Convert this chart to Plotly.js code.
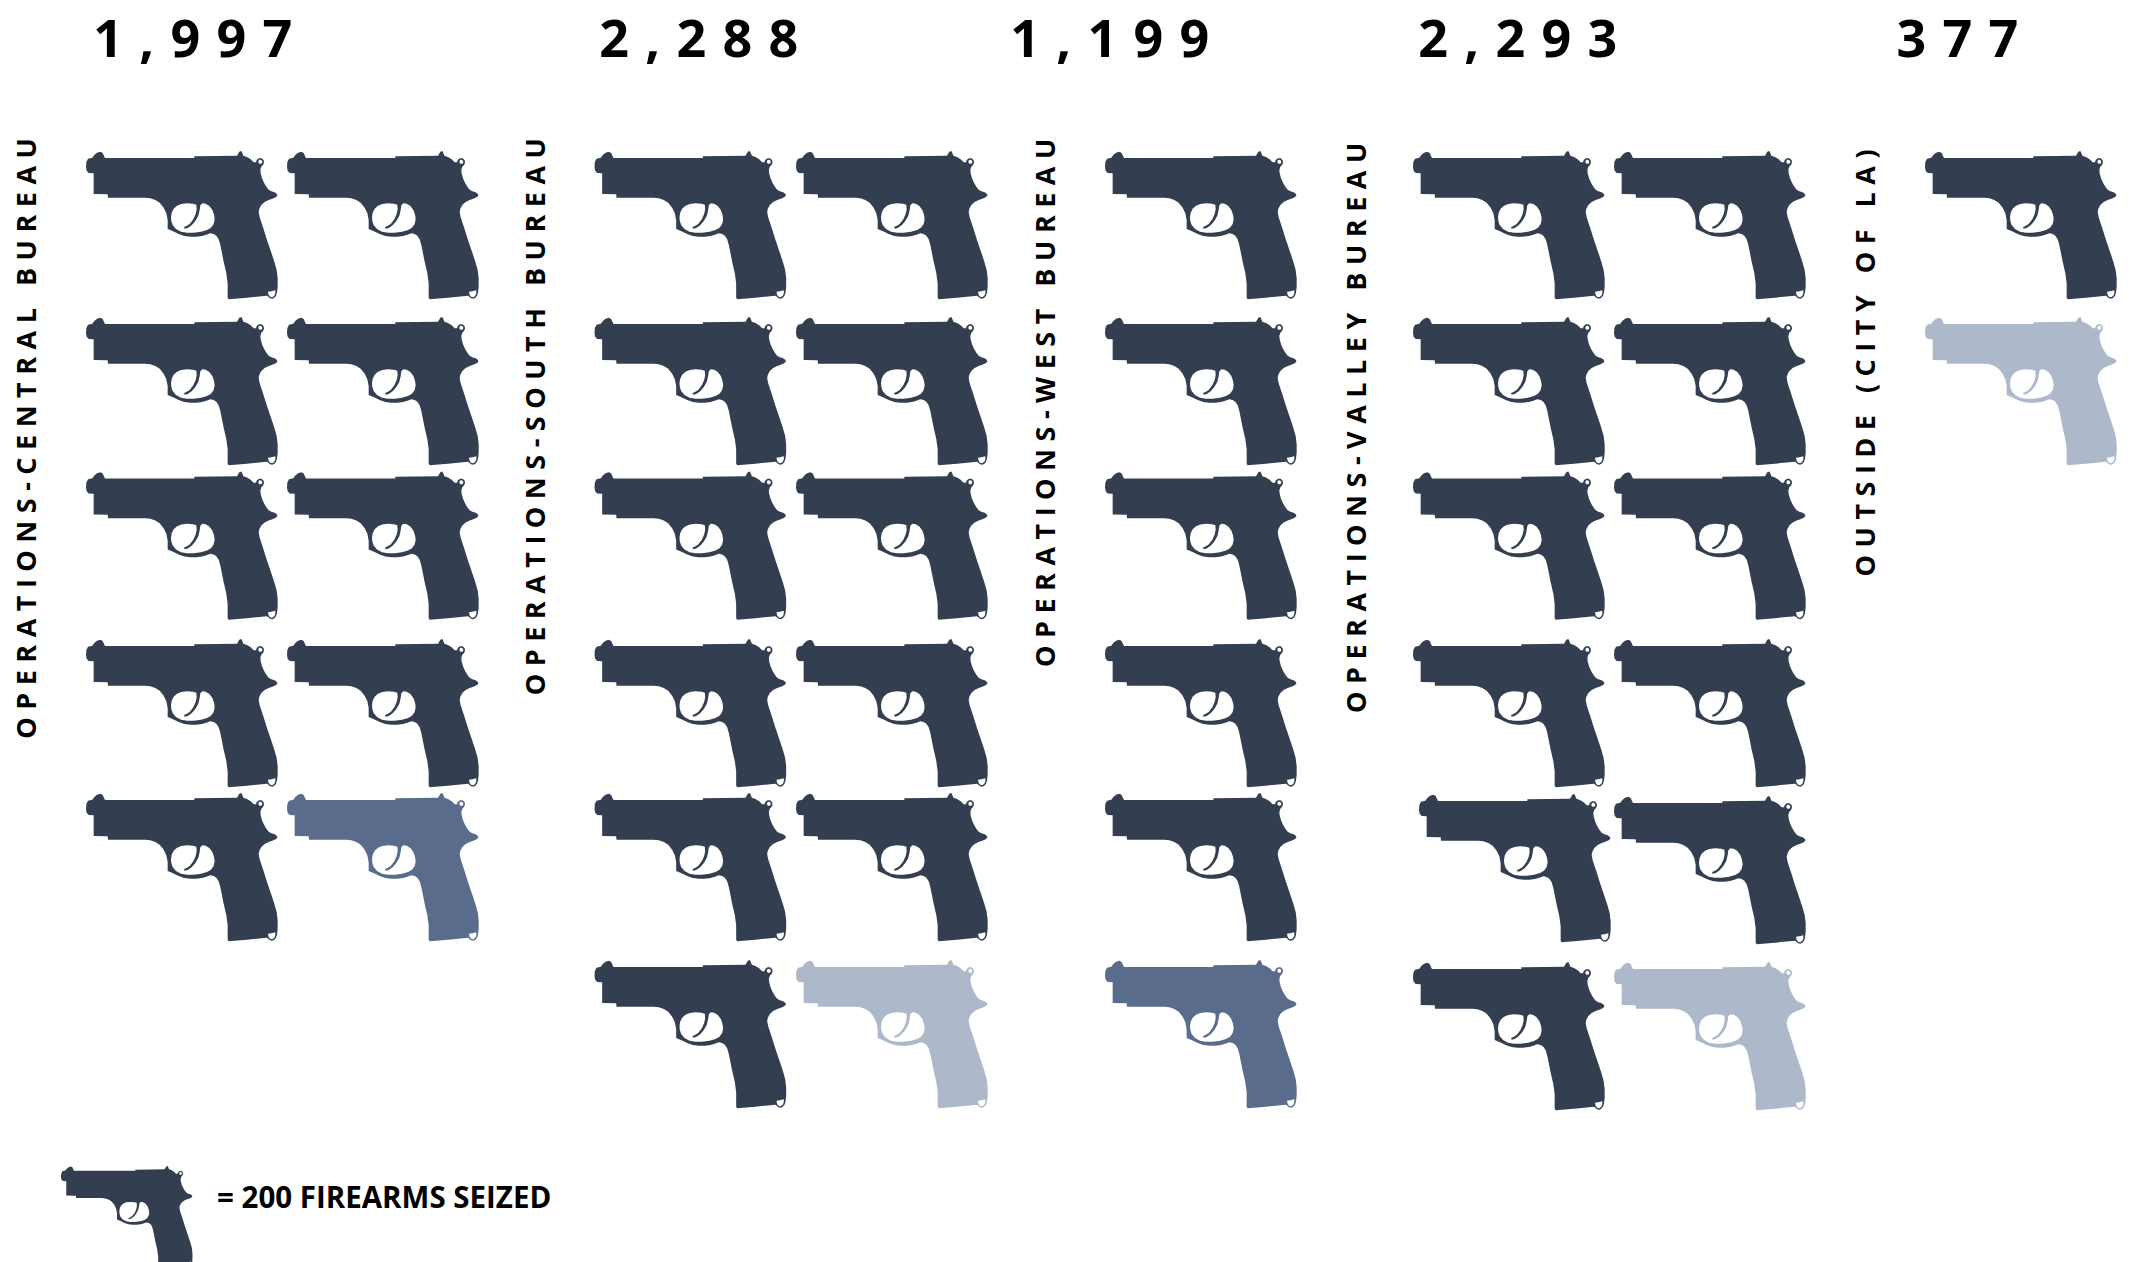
<!DOCTYPE html>
<html>
<head>
<meta charset="utf-8">
<script src="https://cdn.plot.ly/plotly-3.0.1.min.js"></script>
<style>
html,body{margin:0;padding:0;background:#fff;overflow:hidden}
#chart{width:2131px;height:1262px}
g.annotation[data-index="0"] text,g.annotation[data-index="1"] text,g.annotation[data-index="2"] text,g.annotation[data-index="3"] text,g.annotation[data-index="4"] text{letter-spacing:16.3px}
g.annotation[data-index="5"] text,g.annotation[data-index="6"] text,g.annotation[data-index="7"] text,g.annotation[data-index="8"] text,g.annotation[data-index="9"] text{letter-spacing:7.5px}
</style>
</head>
<body>
<div id="chart"></div>
<script>
// ---------- data ----------
const categories = ['OPERATIONS-CENTRAL BUREAU','OPERATIONS-SOUTH BUREAU','OPERATIONS-WEST BUREAU','OPERATIONS-VALLEY BUREAU','OUTSIDE (CITY OF LA)'];
const seized = [1997, 2288, 1199, 2293, 377];
const lastIconTone = ['mid', 'light', 'mid', 'light', 'light'];
const firearmsPerIcon = 200;
const legendText = '= 200 FIREARMS SEIZED';

// ---------- layout constants (pixels of the page) ----------
const W = 2131, H = 1262;
const COL_X = [[86, 287], [594.5, 796], [1105], [1413, 1614], [1925]];
const ROW_Y = [151, 317, 471.5, 639, 793, 960];
const NUDGE = {'3:4:0': [6, 1], '3:4:1': [0, 3], '3:5:0': [0, 2], '3:5:1': [0, 2]};
const COUNT_X = [131.5, 637.5, 1049, 1457, 1918.5];
const LABEL_X = [25, 534, 1043.5, 1355, 1863.5];
const LABEL_Y = [435, 413, 399, 424, 359];
const TONES = {dark: '#333f50', mid: '#596c8b', light: '#adb9ca'};

// Silhouette of the pistol icon, in 1/3 px units relative to its top-left corner
const ORIGIN = [47, 63];
const OUTLINE = [[70,192],[70,130],[55,129],[49,122],[47,112],[48,96],[53,86],[66,83],[72,75],[80,68],[90,65],[97,69],[100,76],[104,84],
[372,84],[372,79],[500,77],[503,72],[507,65],[513,63],[516,69],[519,77],[530,81],[541,88],[550,97],[557,97],[559,90],[566,85],[574,85],[580,91],[581,98],[578,105],[573,110],[570,120],[571,130],[575,145],[581,158],[588,170],[595,179],[603,184],[613,187],[620,192],[621,197],[616,202],[606,206],[595,210],[583,216],[573,225],[567,236],[565,246],[568,262],
[578,292],[590,330],[603,368],[612,395],[619,420],[622,445],[622,470],[620,488],[617,497],[612,503],[606,506],[599,505],[594,500],[590,497],[530,503],[475,508],[472,503],[472,460],[468,430],[460,395],[450,345],[445,328],[438,317],[430,312],[420,310],[408,314],[395,318],[378,320],[360,320],[342,318],[325,312],[308,304],[292,297],[292,270],[288,250],[280,233],[268,218],[255,210],[240,205],[225,203],[113,203],[112,193]];
const HOLES = [
 [[302,262],[304,248],[310,236],[320,227],[333,222],[350,220],[368,221],[378,224],[379,238],[376,252],[369,268],[358,282],[347,289],[341,291],[343,296],[352,294],[364,286],[375,273],[384,257],[388,240],[390,226],[396,220],[406,221],[417,228],[426,240],[431,254],[433,268],[430,282],[422,293],[410,300],[392,305],[370,308],[350,308],[332,305],[317,297],[307,285],[303,273]],
 [[564,95],[566,90],[571,89],[575,92],[576,97],[573,101],[568,101],[565,99]],
 [[593,485],[603,484],[615,481],[615,490],[612,497],[606,502],[600,501],[595,495]]
];

// ---------- build ----------
function addIcon(bucket, left, top, k) {
  const put = ring => {
    ring.forEach(p => {
      bucket.x.push(left + (p[0] - ORIGIN[0]) / 3 * k);
      bucket.y.push(top + (p[1] - ORIGIN[1]) / 3 * k);
    });
    bucket.x.push(left + (ring[0][0] - ORIGIN[0]) / 3 * k);
    bucket.y.push(top + (ring[0][1] - ORIGIN[1]) / 3 * k);
    bucket.x.push(null); bucket.y.push(null);
  };
  put(OUTLINE);
  HOLES.forEach(h => put(h.slice().reverse()));
}

const buckets = {dark: {x: [], y: []}, mid: {x: [], y: []}, light: {x: [], y: []}};
categories.forEach((c, ci) => {
  const n = Math.ceil(seized[ci] / firearmsPerIcon);
  const cols = COL_X[ci];
  for (let i = 0; i < n; i++) {
    const r = Math.floor(i / cols.length), col = i % cols.length;
    const nudge = NUDGE[ci + ':' + r + ':' + col] || [0, 0];
    const tone = i === n - 1 ? lastIconTone[ci] : 'dark';
    addIcon(buckets[tone], cols[col] + nudge[0], ROW_Y[r] + nudge[1], 1);
  }
});
addIcon(buckets.dark, 61, 1166, 0.686);

const traces = Object.keys(buckets).map(t => ({
  type: 'scatter', mode: 'lines', name: t,
  x: buckets[t].x, y: buckets[t].y,
  fill: 'toself', fillcolor: TONES[t],
  line: {width: 0, color: TONES[t], simplify: false},
  connectgaps: false, hoverinfo: 'skip', showlegend: false
}));

const font = (size) => ({family: '"Open Sans", sans-serif', size: size, color: '#000'});
const annotations = [];
seized.forEach((v, i) => annotations.push({
  text: v.toLocaleString('en-US'), xref: 'x', yref: 'y', x: COUNT_X[i], y: 36.5,
  xanchor: 'left', yanchor: 'middle', showarrow: false,
  font: Object.assign(font(52), {weight: 700})
}));
categories.forEach((c, i) => annotations.push({
  text: c, xref: 'x', yref: 'y', x: LABEL_X[i], y: LABEL_Y[i], textangle: -90,
  xanchor: 'center', yanchor: 'middle', showarrow: false,
  font: Object.assign(font(27), {weight: 700})
}));
annotations.push({
  text: legendText, xref: 'x', yref: 'y', x: 215, y: 1196,
  xanchor: 'left', yanchor: 'middle', showarrow: false,
  font: Object.assign(font(29.5), {weight: 700})
});

const hidden = {visible: false, fixedrange: true, zeroline: false, showgrid: false};
Plotly.newPlot('chart', traces, {
  width: W, height: H,
  margin: {l: 0, r: 0, t: 0, b: 0},
  paper_bgcolor: '#fff', plot_bgcolor: '#fff', showlegend: false,
  xaxis: Object.assign({range: [0, W]}, hidden),
  yaxis: Object.assign({range: [H, 0]}, hidden),
  annotations: annotations
}, {staticPlot: true, displayModeBar: false});
</script>
</body>
</html>
